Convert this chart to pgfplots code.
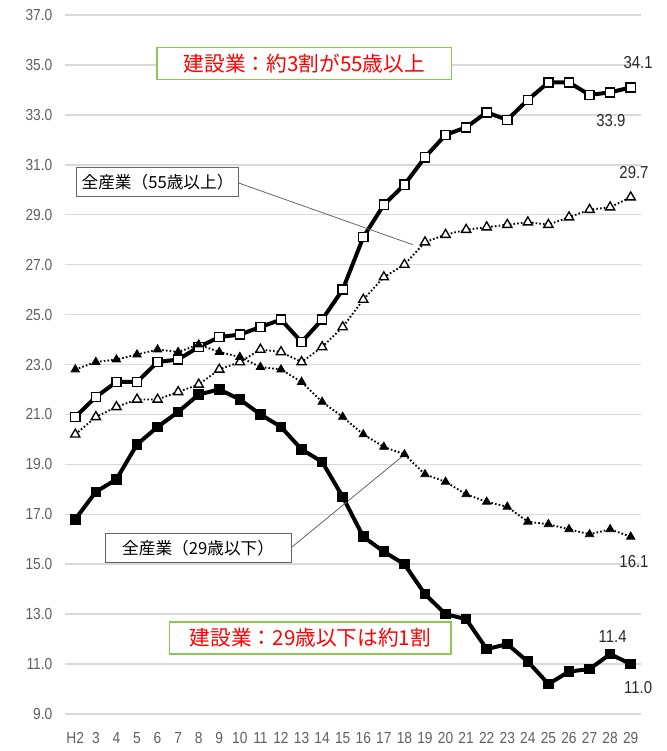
\documentclass[border=0pt]{standalone}
\usepackage{fontspec}
\setmainfont{Liberation Sans}
\newfontfamily\jp{Noto Sans CJK JP}
\newfontfamily\num[FakeStretch=0.86]{Liberation Sans}
\usepackage{pgfplots}
\pgfplotsset{compat=1.18}
\definecolor{gridgray}{RGB}{217,217,217}
\definecolor{ticktext}{RGB}{95,95,95}
\definecolor{labtext}{RGB}{40,40,40}
\definecolor{boxgreen}{RGB}{140,200,75}
\definecolor{boxgray}{RGB}{100,100,100}

\begin{document}
\begin{tikzpicture}
\path[use as bounding box] (-48.75pt,-27.75pt) rectangle (451.5pt,535.5pt);
\begin{axis}[
  scale only axis, width=432pt, height=524.25pt,
  xmin=-0.5, xmax=27.5, ymin=9, ymax=37,
  ytick={9,11,...,37},
  xtick={0,...,27},
  xticklabels={H2,3,4,5,6,7,8,9,10,11,12,13,14,15,16,17,18,19,20,21,22,23,24,25,26,27,28,29},
  axis line style={draw=none},
  major tick length=0pt,
  ymajorgrids, grid style={gridgray, line width=1.1pt},
  /pgf/number format/assume math mode=true,
  ticklabel style={font=\num\fontsize{12}{12}\selectfont, text=ticktext},
  yticklabel style={/pgf/number format/fixed, /pgf/number format/fixed zerofill,
    /pgf/number format/precision=1, xshift=-6pt},
  xticklabel style={yshift=-10pt},
  clip=false,
]
% construction, 55 and over
\addplot[black, line width=3pt, mark=square*, mark size=3.4pt,
  mark options={fill=white, line width=1.1pt}]
coordinates {
(0,20.9) (1,21.7) (2,22.3) (3,22.3) (4,23.1) (5,23.2) (6,23.7) (7,24.1)
(8,24.2) (9,24.5) (10,24.8) (11,23.9) (12,24.8) (13,26.0) (14,28.1) (15,29.4)
(16,30.2) (17,31.3) (18,32.2) (19,32.5) (20,33.1) (21,32.8) (22,33.6) (23,34.3)
(24,34.3) (25,33.8) (26,33.9) (27,34.1)};
% construction, 29 and under
\addplot[black, line width=3pt, mark=square*, mark size=3.4pt,
  mark options={fill=black, line width=1.1pt}]
coordinates {
(0,16.8) (1,17.9) (2,18.4) (3,19.8) (4,20.5) (5,21.1) (6,21.8) (7,22.0)
(8,21.6) (9,21.0) (10,20.5) (11,19.6) (12,19.1) (13,17.7) (14,16.1) (15,15.5)
(16,15.0) (17,13.8) (18,13.0) (19,12.8) (20,11.6) (21,11.8) (22,11.1) (23,10.2)
(24,10.7) (25,10.8) (26,11.4) (27,11.0)};
% all industries, 55 and over
\addplot[black, line width=1.4pt, dash pattern=on 1.2pt off 1.6pt, mark=triangle*, mark size=4pt,
  mark options={fill=white, solid, line width=1pt}]
coordinates {
(0,20.2) (1,20.9) (2,21.3) (3,21.6) (4,21.6) (5,21.9) (6,22.2) (7,22.8)
(8,23.1) (9,23.6) (10,23.5) (11,23.1) (12,23.7) (13,24.5) (14,25.6) (15,26.5)
(16,27.0) (17,27.9) (18,28.2) (19,28.4) (20,28.5) (21,28.6) (22,28.7) (23,28.6)
(24,28.9) (25,29.2) (26,29.3) (27,29.7)};
% all industries, 29 and under
\addplot[black, line width=1.4pt, dash pattern=on 1.2pt off 1.6pt, mark=triangle*, mark size=3.6pt,
  mark options={fill=black, solid, line width=0.6pt}]
coordinates {
(0,22.8) (1,23.1) (2,23.2) (3,23.4) (4,23.6) (5,23.5) (6,23.8) (7,23.5)
(8,23.3) (9,22.9) (10,22.8) (11,22.3) (12,21.5) (13,20.9) (14,20.2) (15,19.7)
(16,19.4) (17,18.6) (18,18.3) (19,17.8) (20,17.5) (21,17.3) (22,16.7) (23,16.6)
(24,16.4) (25,16.2) (26,16.4) (27,16.1)};

% leader lines
\draw[boxgray, line width=0.6pt] (axis cs:7.91,30.28) -- (axis cs:16.4,27.8);
\draw[boxgray, line width=0.6pt] (axis cs:10.49,15.66) -- (axis cs:15.87,19.3);

% boxes
\node[draw=boxgreen, line width=1pt, fill=white, minimum width=221pt, minimum height=24pt,
  inner sep=0pt, text=red, font=\jp\fontsize{15.5}{15.5}\selectfont]
  at (axis cs:11.14,35.05) {建設業：約3割が55歳以上};
\node[draw=boxgreen, line width=1pt, fill=white, minimum width=211pt, minimum height=24pt,
  inner sep=0pt, text=red, font=\jp\fontsize{15.5}{15.5}\selectfont]
  at (axis cs:11.43,12.05) {建設業：29歳以下は約1割};
\node[draw=boxgray, line width=0.8pt, fill=white, minimum width=121pt, minimum height=22pt,
  inner sep=0pt, text=black, font=\jp\fontsize{12.5}{12.5}\selectfont]
  at (axis cs:4.0,30.3) {全産業（55歳以上）};
\node[draw=boxgray, line width=0.8pt, fill=white, minimum width=139.5pt, minimum height=22pt,
  inner sep=0pt, text=black, font=\jp\fontsize{12.5}{12.5}\selectfont]
  at (axis cs:5.97,15.64) {全産業（29歳以下）};

% value labels
\begin{scope}[every node/.style={font=\num\fontsize{13}{13}\selectfont, text=labtext, inner sep=0pt}]
\node at (axis cs:27.36,35.1) {34.1};
\node at (axis cs:26.04,32.77) {33.9};
\node at (axis cs:27.16,30.69) {29.7};
\node at (axis cs:27.16,15.12) {16.1};
\node at (axis cs:26.12,12.10) {11.4};
\node at (axis cs:27.36,10.07) {11.0};
\end{scope}
\end{axis}
\end{tikzpicture}
\end{document}
